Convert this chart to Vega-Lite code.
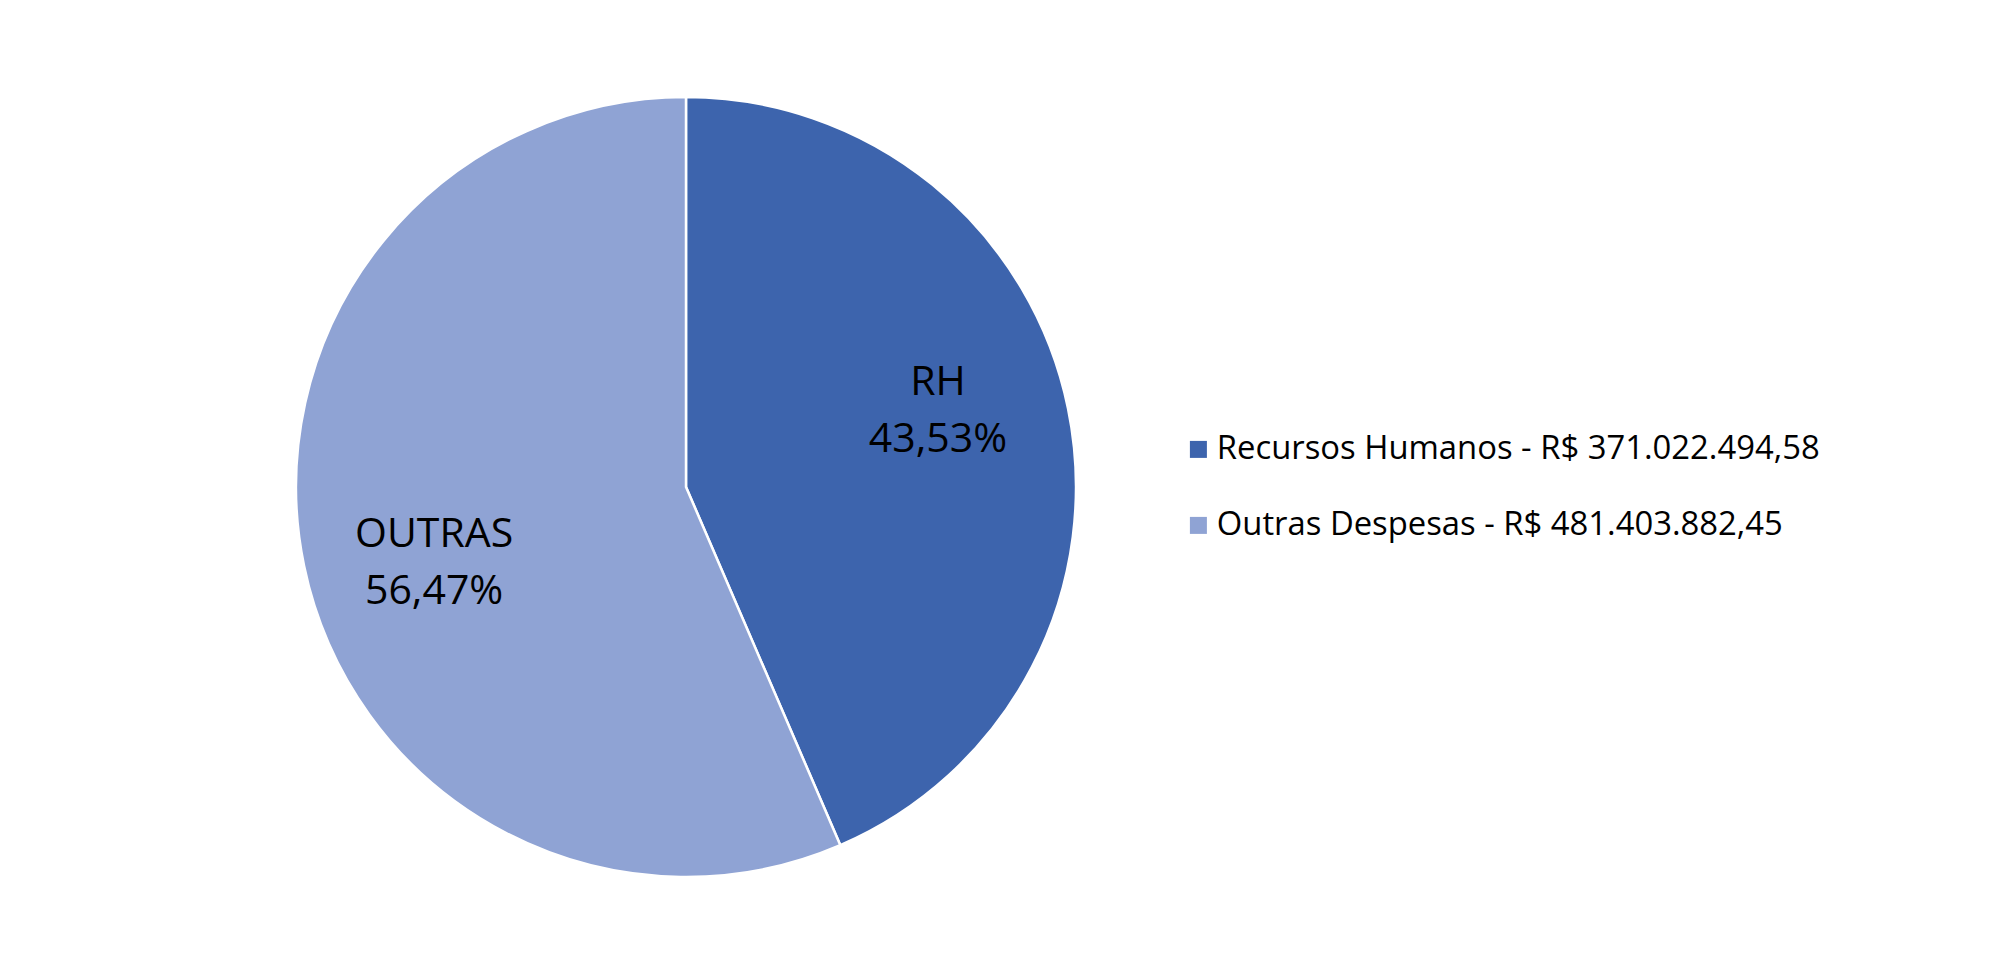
{
  "$schema": "https://vega.github.io/schema/vega-lite/v6.json",
  "width": 780,
  "height": 780,
  "autosize": {"type": "none"},
  "padding": {"left": 296, "top": 97, "right": 935, "bottom": 83},
  "background": "white",
  "config": {"view": {"stroke": null}},
  "data": {
    "values": [
      {"categoria": "Recursos Humanos - R$ 371.022.494,58", "valor": 371022494.58, "rotulo": "RH\n43,53%", "ordem": 1},
      {"categoria": "Outras Despesas - R$ 481.403.882,45", "valor": 481403882.45, "rotulo": "OUTRAS\n56,47%", "ordem": 2}
    ]
  },
  "encoding": {
    "theta": {"field": "valor", "type": "quantitative", "stack": true},
    "order": {"field": "ordem", "type": "quantitative"}
  },
  "layer": [
    {
      "mark": {"type": "arc", "stroke": "white", "strokeWidth": 2.5},
      "encoding": {
        "color": {
          "field": "categoria",
          "type": "nominal",
          "sort": ["Recursos Humanos - R$ 371.022.494,58", "Outras Despesas - R$ 481.403.882,45"],
          "scale": {
            "domain": ["Recursos Humanos - R$ 371.022.494,58", "Outras Despesas - R$ 481.403.882,45"],
            "range": ["#3D64AD", "#8FA3D4"]
          },
          "legend": {
            "title": null,
            "orient": "none",
            "legendX": 886,
            "legendY": 336,
            "padding": 0,
            "symbolType": "square",
            "symbolSize": 289,
            "symbolStrokeWidth": 0,
            "symbolOpacity": 1,
            "labelFont": "Open Sans",
            "labelFontSize": 32.8,
            "labelColor": "#000000",
            "labelOffset": 2,
            "labelLimit": 1000,
            "rowPadding": 42
          }
        }
      }
    },
    {
      "mark": {
        "type": "text",
        "radius": 263,
        "thetaOffset": -0.088,
        "dy": -28,
        "font": "Open Sans",
        "fontSize": 41,
        "lineBreak": "\n",
        "lineHeight": 57,
        "align": "center",
        "baseline": "middle",
        "color": "#000000"
      },
      "encoding": {
        "text": {"field": "rotulo", "type": "nominal"}
      }
    }
  ]
}
